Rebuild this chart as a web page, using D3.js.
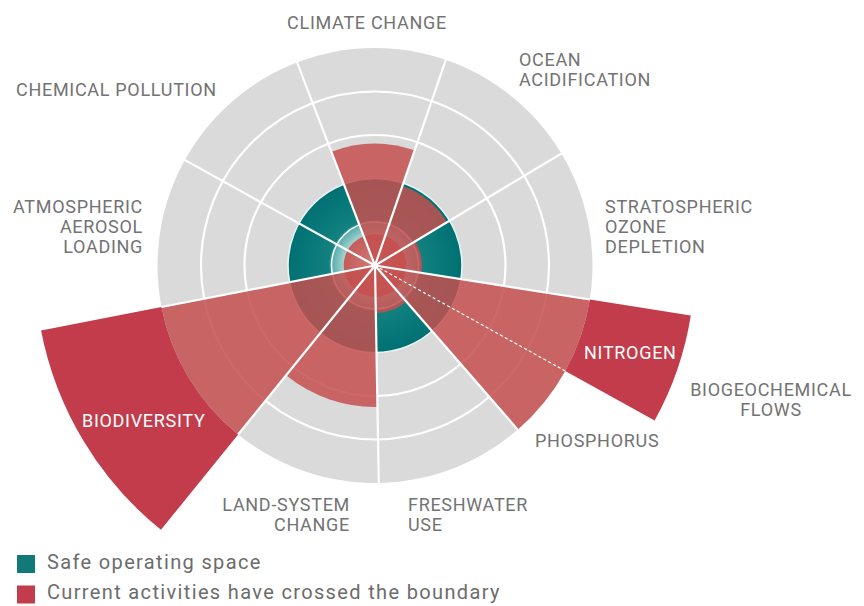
<!DOCTYPE html>
<html>
<head>
<meta charset="utf-8">
<script src="https://cdn.jsdelivr.net/npm/d3@7"></script>
<style>
  body { margin: 0; background: #fff; }
  .label { font-family: Roboto, "Liberation Sans", sans-serif; font-size: 18px; letter-spacing: 0.7px; fill: #737373; }
  .legend text { font-family: Roboto, "Liberation Sans", sans-serif; font-size: 20px; letter-spacing: 1.35px; fill: #6c6c6c; }
</style>
</head>
<body>
<div class="chart"></div>
<script>
// boundaries, clockwise from the top
const categories = ["Climate change", "Ocean acidification", "Stratospheric ozone depletion",
    "Nitrogen", "Phosphorus", "Freshwater use", "Land-system change", "Biodiversity",
    "Atmospheric aerosol loading", "Chemical pollution"];
// share of the circle each one gets (N and P split biogeochemical flows)
const shares = [2, 2, 2, 1, 1, 2, 2, 2, 2, 2];
// current position, in units where the safe boundary is 2 (null = not quantified)
const values = [2.8, 1.93, 1.08, 7.35, 5.0, 1.1, 3.25, 7.82, null, null];
const safeLimit = 2;
const rings = [1, 2, 3, 4, 5];
const maxRing = 5;

const outerLabels = [
    ["CLIMATE CHANGE"], ["OCEAN", "ACIDIFICATION"], ["STRATOSPHERIC", "OZONE", "DEPLETION"],
    ["BIOGEOCHEMICAL", "FLOWS"], ["PHOSPHORUS"], ["FRESHWATER", "USE"], ["LAND-SYSTEM", "CHANGE"],
    ["ATMOSPHERIC", "AEROSOL", "LOADING"], ["CHEMICAL POLLUTION"]
];
const innerLabels = ["NITROGEN", "BIODIVERSITY"];
const legendItems = ["Safe operating space", "Current activities have crossed the boundary"];

function init() {
    let width = 864, height = 606;
    let cx = 375, cy = 265.5;

    let svg = d3.select(".chart").append("svg")
        .attr("width", width)
        .attr("height", height);

    let defs = svg.append("defs");

    let tealGrad = defs.append("radialGradient")
        .attr("id", "teal")
        .attr("gradientUnits", "userSpaceOnUse")
        .attr("cx", 0).attr("cy", 0).attr("r", 87);
    [[0, "#cfe6e4"], [0.36, "#a6d2d0"], [0.49, "#5aaeae"], [0.53, "#13817f"], [1, "#007073"]]
        .forEach(s => tealGrad.append("stop").attr("offset", s[0]).attr("stop-color", s[1]));

    let coreGrad = defs.append("radialGradient").attr("id", "core");
    [[0, "#d27a74"], [1, "#c45c5a"]]
        .forEach(s => coreGrad.append("stop").attr("offset", s[0]).attr("stop-color", s[1]));

    let plot = svg.append("g").attr("transform", `translate(${cx},${cy})`);

    let rScale = d3.scaleLinear().domain([0, maxRing]).range([0, 217.5]);

    let start = -21 * Math.PI / 180;
    let pie = d3.pie().sort(null).value(d => d.share)
        .startAngle(start).endAngle(start + 2 * Math.PI);
    let slices = pie(categories.map((c, i) => ({ name: c, share: shares[i], value: values[i] })));

    let arc = d3.arc();

    // grey field and its rings
    plot.append("circle").attr("r", rScale(maxRing)).attr("fill", "#dadada");
    plot.selectAll(".ring")
        .data(rings.filter(d => d > safeLimit && d < maxRing))
        .enter().append("circle")
        .attr("r", d => rScale(d))
        .attr("fill", "none").attr("stroke", "#fff").attr("stroke-width", 2.2);

    // safe operating space
    plot.append("circle").attr("r", rScale(safeLimit)).attr("fill", "url(#teal)");
    plot.append("circle").attr("r", rScale(safeLimit))
        .attr("fill", "none").attr("stroke", "#e8f4f4").attr("stroke-width", 1.6);
    plot.append("circle").attr("r", rScale(1))
        .attr("fill", "none").attr("stroke", "#f2f8f8").attr("stroke-width", 1.6);
    plot.append("circle").attr("r", rScale(0.72)).attr("fill", "url(#core)");

    let measured = slices.filter(d => d.data.value != null);

    // part of each wedge inside the grey field
    plot.selectAll(".wedge")
        .data(measured)
        .enter().append("path")
        .attr("class", "wedge")
        .attr("d", d => arc({
            innerRadius: 0,
            outerRadius: rScale(Math.min(d.data.value, maxRing)),
            startAngle: d.startAngle, endAngle: d.endAngle
        }))
        .attr("fill", "#c4504f")
        .attr("fill-opacity", 0.85);

    // part beyond the field
    plot.selectAll(".over")
        .data(measured.filter(d => d.data.value > maxRing))
        .enter().append("path")
        .attr("class", "over")
        .attr("d", d => arc({
            innerRadius: rScale(maxRing),
            outerRadius: rScale(d.data.value),
            startAngle: d.startAngle, endAngle: d.endAngle
        }))
        .attr("fill", "#c23c4b");

    // sector dividers
    let pt = (a, r) => [Math.sin(a) * r, -Math.cos(a) * r];
    plot.selectAll(".divider")
        .data(slices.filter(d => d.data.name != "Phosphorus"))
        .enter().append("line")
        .attr("x1", 0).attr("y1", 0)
        .attr("x2", d => pt(d.startAngle, rScale(maxRing))[0])
        .attr("y2", d => pt(d.startAngle, rScale(maxRing))[1])
        .attr("stroke", "#fff").attr("stroke-width", 2.2);

    let split = slices.find(d => d.data.name == "Phosphorus");
    plot.append("line")
        .attr("x1", 0).attr("y1", 0)
        .attr("x2", pt(split.startAngle, rScale(maxRing))[0])
        .attr("y2", pt(split.startAngle, rScale(maxRing))[1])
        .attr("stroke", "#fff").attr("stroke-width", 1.2)
        .attr("stroke-dasharray", "3,2.5");

    plot.append("circle").attr("r", 2.5).attr("fill", "#fff");

    // labels, placed by eye
    let spots = [
        [367, 29, "middle"], [519, 66, "start"], [605, 213, "start"], [771, 396, "middle"],
        [535, 447, "start"], [408, 511, "start"], [350, 511, "end"], [143, 213, "end"],
        [16, 96, "start"]
    ];
    outerLabels.forEach((lines, i) => {
        let t = svg.append("text").attr("class", "label")
            .attr("text-anchor", spots[i][2]);
        lines.forEach((l, j) => t.append("tspan")
            .attr("x", spots[i][0]).attr("y", spots[i][1] + j * 20).text(l));
    });

    let innerSpots = [[584, 359], [82, 427]];
    innerLabels.forEach((l, i) => svg.append("text").attr("class", "label")
        .attr("x", innerSpots[i][0]).attr("y", innerSpots[i][1])
        .style("fill", "#fff").text(l));

    // legend
    let legend = svg.append("g").attr("class", "legend");
    let swatches = ["#117978", "#c23c4b"];
    legendItems.forEach((l, i) => {
        let row = legend.append("g").attr("transform", `translate(17,${555 + i * 30.5})`);
        row.append("rect").attr("width", 18).attr("height", 18).attr("fill", swatches[i]);
        row.append("text").attr("x", 30).attr("y", 13.5).text(l);
    });
}

init();
</script>
</body>
</html>
